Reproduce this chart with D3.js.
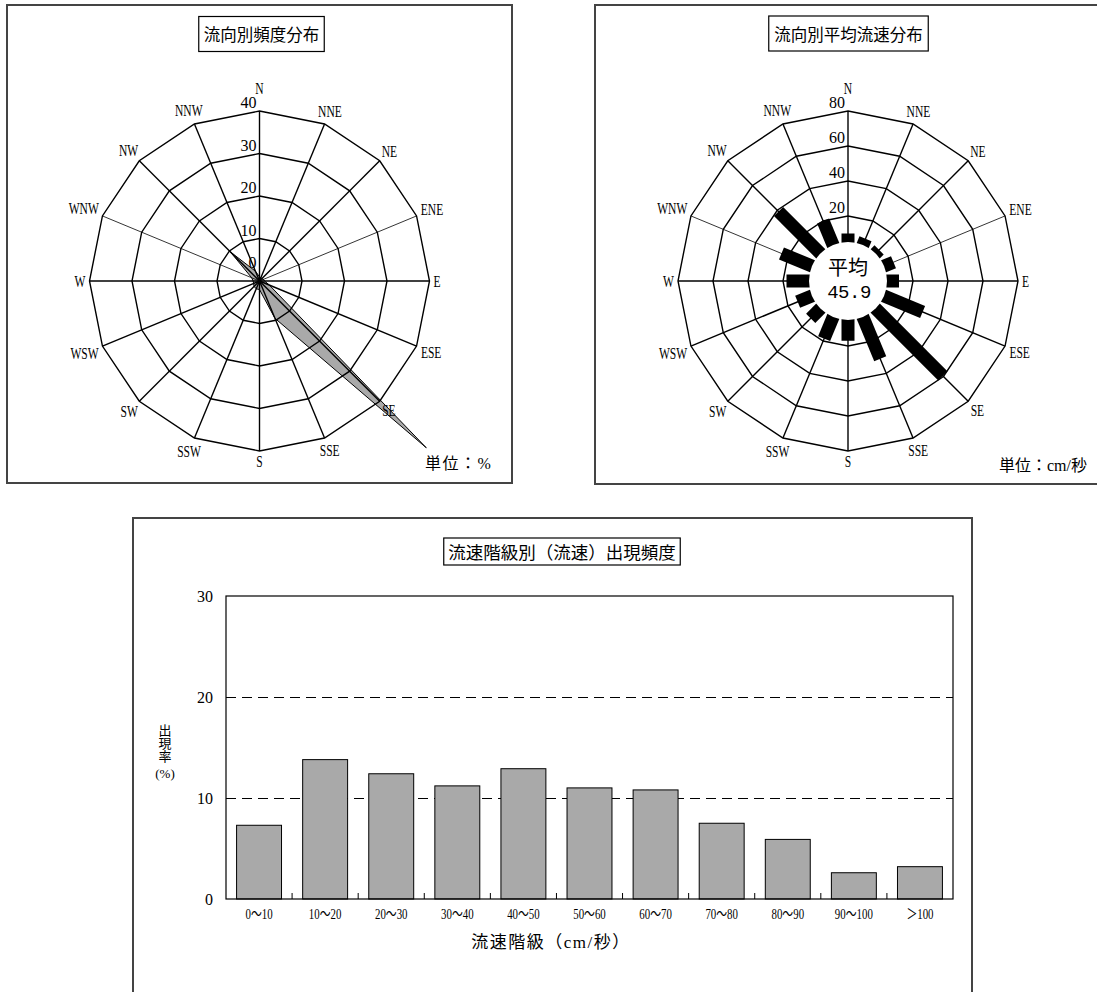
<!DOCTYPE html>
<html><head><meta charset="utf-8">
<script src="https://cdn.jsdelivr.net/npm/d3@7"></script>
<style>body{margin:0;background:#fff} svg{display:block}</style>
</head><body>
<svg id="c" width="1097" height="992"></svg>
<script>
// ---------- data ----------
const directions = ["N","NNE","NE","ENE","E","ESE","SE","SSE","S","SSW","SW","WSW","W","WNW","NW","NNW"];
const freqValues = [1.0,0.8,0.8,1.0,1.2,2.5,55.5,9.5,2.0,2.0,1.8,1.5,1.5,2.0,9.7,2.5];   // %
const freqTicks = [0,10,20,30,40];
const speedValues = [10,9,8,11,12,29,59.5,31,17,18.5,13,14,18,24,39,20];   // cm/s
const speedTicks = [20,40,60,80];
const speedMean = "45.9";
const speedClasses = ["0～10","10～20","20～30","30～40","40～50","50～60","60～70","70～80","80～90","90～100","＞100"];
const classFreq = [7.3,13.8,12.4,11.2,12.9,11.0,10.8,7.5,5.9,2.6,3.2];
const yTicks = [0,10,20,30];

// ---------- styles ----------
const SERIF = "'Liberation Serif','DejaVu Serif',serif";
const CJK = "'Noto Sans CJK JP',sans-serif";
const MIX = "'Liberation Serif','Noto Sans CJK JP',serif";
const MONO = "'Liberation Mono','DejaVu Sans Mono',monospace";

const svg = d3.select("#c");

function frame(x, y, w, h) {
  svg.append("rect").attr("x", x).attr("y", y).attr("width", w).attr("height", h)
    .attr("fill", "none").attr("stroke", "#444").attr("stroke-width", 2);
}
frame(7, 5, 505, 478);
frame(595, 5, 520, 479);
frame(133, 518, 839, 490);

function titleBox(cx, cy, text, size, h, pad) {
  const t = svg.append("text").attr("x", cx).attr("y", cy)
    .attr("text-anchor", "middle").attr("dominant-baseline", "central")
    .style("font-family", CJK).style("font-size", size + "px").text(text);
  const w = t.node().getComputedTextLength() + 2 * pad;
  svg.insert("rect", "text").attr("x", cx - w / 2).attr("y", cy - h / 2)
    .attr("width", w).attr("height", h).attr("fill", "#fff")
    .attr("stroke", "#000").attr("stroke-width", 1.2);
}
titleBox(261.5, 34, "流向別頻度分布", 16.5, 35, 5);
titleBox(848.5, 33.5, "流向別平均流速分布", 16.5, 35, 5.5);
titleBox(562, 551.5, "流速階級別（流速）出現頻度", 17.5, 27, 4.5);

const ang = i => i * Math.PI / 8;
const pt = (r, i) => [r * Math.sin(ang(i)), -r * Math.cos(ang(i))];

function roseGrid(g, r, ticks, r0) {
  const rMax = r(ticks[ticks.length - 1]);
  ticks.filter(v => r(v) > 0.5).forEach(v => {
    const pts = directions.map((d, i) => pt(r(v), i));
    g.append("polygon").attr("points", pts.map(p => p.join(",")).join(" "))
      .attr("fill", "none").attr("stroke", "#000").attr("stroke-width", 1.4);
  });
  directions.forEach((d, i) => {
    const [x1, y1] = pt(r0, i), [x2, y2] = pt(rMax, i);
    g.append("line").attr("x1", x1).attr("y1", y1).attr("x2", x2).attr("y2", y2)
      .attr("stroke", "#000").attr("stroke-width", (d === "WNW" || d === "ENE") ? 0.8 : 1.4);
  });
}

function dirLabels(g, rMax) {
  directions.forEach((d, i) => {
    const t = g.append("text").attr("text-anchor", "middle").attr("dominant-baseline", "central")
      .style("font-family", SERIF).style("font-size", "16.5px").text(d);
    const w = t.node().getComputedTextLength() * 0.7;
    const s = Math.abs(Math.sin(ang(i))), c = Math.abs(Math.cos(ang(i)));
    let rr = rMax + 4 + (w / 2) * s + 6 * c;
    if (i === 0) rr = rMax + 23;
    const [x, y] = pt(rr, i);
    t.attr("transform", `translate(${x},${y}) scale(0.7,1)`);
  });
}

// ---------- left rose: frequency ----------
{
  const cx = 259.5, cy = 281;
  const g = svg.append("g").attr("transform", `translate(${cx},${cy})`);
  const r = d3.scaleLinear().domain([0, 40]).range([0, 170]);
  const line = d3.lineRadial().angle((d, i) => ang(i)).radius(d => r(d)).curve(d3.curveLinearClosed);
  g.append("path").attr("d", line(freqValues))
    .attr("fill", "#a9a9a9").attr("stroke", "#000").attr("stroke-width", 1);
  roseGrid(g, r, freqTicks, 0);
  freqTicks.forEach(v => {
    g.append("text").attr("x", -3).attr("y", -Math.max(r(v), 10) - 3)
      .attr("text-anchor", "end").style("font-family", SERIF).style("font-size", "16px").text(v);
  });
  dirLabels(g, 170);
  svg.append("text").attr("x", 425).attr("y", 469)
    .style("font-family", MIX).style("font-size", "16px").style("letter-spacing", "1.5px").text("単位：%");
}

// ---------- right rose: mean speed ----------
{
  const cx = 848, cy = 281;
  const g = svg.append("g").attr("transform", `translate(${cx},${cy})`);
  const r = d3.scaleLinear().domain([0, 80]).range([30, 170]);
  roseGrid(g, r, speedTicks, r(0));
  speedValues.forEach((v, i) => {
    g.append("rect").attr("x", -6.5).attr("y", -r(v)).attr("width", 13).attr("height", r(v) - r(0))
      .attr("fill", "#000").attr("transform", `rotate(${i * 22.5})`);
  });
  g.append("circle").attr("r", 39).attr("fill", "#fff");
  const ct = g.append("text").attr("text-anchor", "middle");
  ct.append("tspan").attr("x", 0).attr("y", -6).style("font-family", CJK).style("font-size", "20px").text("平均");
  ct.append("tspan").attr("x", 1).attr("y", 17).style("font-family", MONO).style("font-size", "19px")
    .style("letter-spacing", "-0.5px").text(speedMean);
  speedTicks.forEach(v => {
    g.append("text").attr("x", -3).attr("y", -r(v) - 3)
      .attr("text-anchor", "end").style("font-family", SERIF).style("font-size", "16px").text(v);
  });
  dirLabels(g, 170);
  svg.append("text").attr("x", 999).attr("y", 471)
    .style("font-family", MIX).style("font-size", "16px").text("単位：cm/秒");
}

// ---------- bar chart ----------
{
  const x = d3.scaleBand().domain(speedClasses).range([226, 953]).paddingInner(0.32).paddingOuter(0.16);
  const y = d3.scaleLinear().domain([0, 30]).range([899, 596]);

  [10, 20].forEach(v => {
    svg.append("line").attr("x1", 226).attr("x2", 953).attr("y1", Math.round(y(v)) + 0.5).attr("y2", Math.round(y(v)) + 0.5)
      .attr("stroke", "#000").attr("stroke-width", 1).attr("stroke-dasharray", "10,6");
  });
  svg.append("g").selectAll("rect").data(classFreq).join("rect")
    .attr("x", (d, i) => x(speedClasses[i])).attr("y", d => y(d))
    .attr("width", x.bandwidth()).attr("height", d => y(0) - y(d))
    .attr("fill", "#a9a9a9").attr("stroke", "#000").attr("stroke-width", 1);
  const gap = (x.step() - x.bandwidth()) / 2;
  speedClasses.slice(1).forEach(c => {
    const bx = x(c) - gap;
    svg.append("line").attr("x1", bx).attr("x2", bx).attr("y1", y(0)).attr("y2", y(0) - 6)
      .attr("stroke", "#000").attr("stroke-width", 1);
  });
  svg.append("rect").attr("x", 226).attr("y", y(30)).attr("width", 727).attr("height", y(0) - y(30))
    .attr("fill", "none").attr("stroke", "#000").attr("stroke-width", 1.2);

  const ya = svg.append("g").attr("transform", "translate(226,0)")
    .call(d3.axisLeft(y).tickValues(yTicks).tickSize(0).tickPadding(13));
  ya.select(".domain").remove();
  ya.selectAll("text").style("font-family", SERIF).style("font-size", "16px").attr("fill", "#000");

  const xa = svg.append("g").attr("transform", `translate(0,${y(0)})`)
    .call(d3.axisBottom(x).tickSize(0).tickPadding(10));
  xa.select(".domain").remove();
  xa.selectAll("text").style("font-family", MIX).style("font-size", "14.5px").attr("fill", "#000")
    .attr("transform", "scale(0.75,1)");

  svg.append("text").attr("x", 165).attr("y", 724)
    .style("writing-mode", "vertical-rl").style("font-family", CJK).style("font-size", "13px")
    .text("出現率");
  svg.append("text").attr("x", 165).attr("y", 773).attr("text-anchor", "middle")
    .attr("dominant-baseline", "central").style("font-family", SERIF).style("font-size", "13px").text("(%)");

  svg.append("text").attr("x", 551).attr("y", 942).attr("text-anchor", "middle")
    .attr("dominant-baseline", "central").style("font-family", MIX).style("font-size", "17px")
    .style("letter-spacing", "1.5px").text("流速階級（cm/秒）");
}
</script>
</body></html>
